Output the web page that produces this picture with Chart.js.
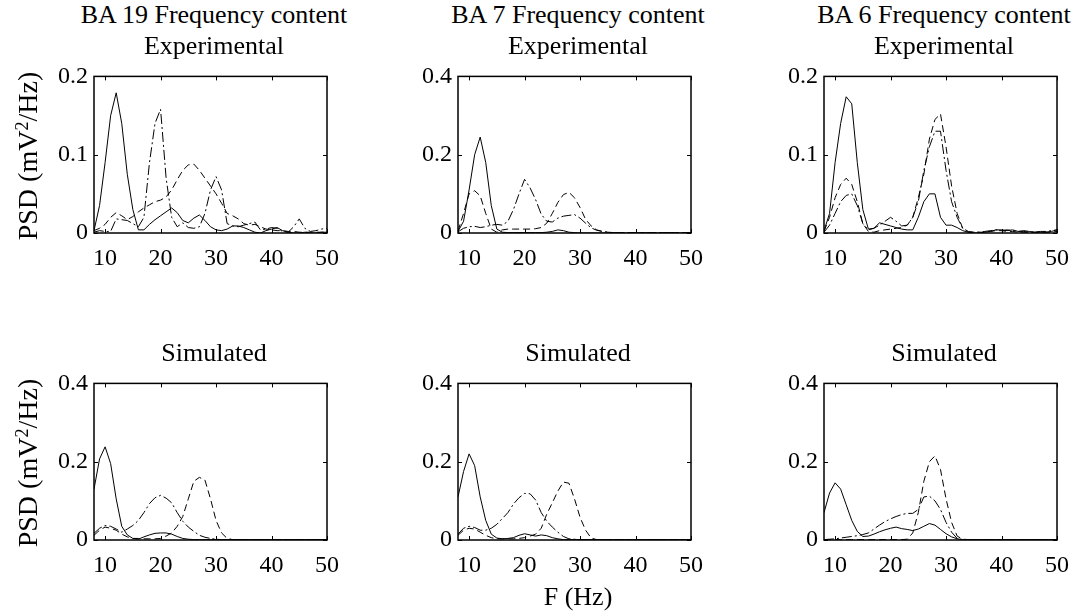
<!DOCTYPE html>
<html>
<head>
<meta charset="utf-8">
<script src="https://cdn.jsdelivr.net/npm/chart.js@4.4.1/dist/chart.umd.min.js"></script>
<style>
  body { margin: 0; background: #fff; }
  #fig { position: relative; width: 1081px; height: 612px; overflow: hidden;
         font-family: "Liberation Serif", "Times New Roman", serif; color: #000; }
  #fig canvas { position: absolute; }
  .txt { position: absolute; white-space: nowrap; text-align: center; }
</style>
</head>
<body>
<div id="fig"></div>
<script>
const freqs = [8, 9, 10, 11, 12, 13, 14, 15, 16, 17,
  18, 19, 20, 21, 22, 23, 24, 25, 26, 27,
  28, 29, 30, 31, 32, 33, 34, 35, 36, 37,
  38, 39, 40, 41, 42, 43, 44, 45, 46, 47,
  48, 49, 50];
const xTicks = [10, 20, 30, 40, 50];
const yTicksSmall = [0, 0.1, 0.2];
const yTicksBig = [0, 0.2, 0.4];

// BA 19, experimental
const ba19ExpSolid = [0.003, 0.035, 0.09, 0.15, 0.179, 0.14, 0.075, 0.03, 0.004, 0.004,
  0.011, 0.017, 0.022, 0.027, 0.032, 0.026, 0.016, 0.013, 0.019, 0.023,
  0.016, 0.008, 0.004, 0.003, 0.005, 0.009, 0.009, 0.007, 0.004, 0.001,
  0, 0.003, 0.005, 0.007, 0.003, 0.001, 0, 0, 0.001, 0,
  0, 0.001, 0.001];
const ba19ExpDashed = [0.003, 0.006, 0.011, 0.02, 0.026, 0.022, 0.017, 0.021, 0.027, 0.032,
  0.036, 0.04, 0.042, 0.046, 0.055, 0.068, 0.08, 0.087, 0.088, 0.08,
  0.07, 0.06, 0.05, 0.038, 0.025, 0.022, 0.018, 0.012, 0.01, 0.011,
  0.008, 0.005, 0.004, 0.003, 0.003, 0.002, 0.002, 0.001, 0.001, 0.001,
  0.001, 0.001, 0.001];
const ba19ExpDashDot = [0.001, 0.003, 0.002, 0.002, 0.018, 0.017, 0.016, 0.012, 0.008, 0.02,
  0.09, 0.14, 0.158, 0.07, 0.02, 0.008, 0.013, 0.007, 0.006, 0.008,
  0.025, 0.055, 0.072, 0.055, 0.012, 0.009, 0.008, 0.01, 0.012, 0.014,
  0.004, 0.005, 0.007, 0.006, 0.002, 0.001, 0.008, 0.018, 0.006, 0.002,
  0.003, 0.005, 0.006];

// BA 7, experimental
const ba7ExpSolid = [0.004, 0.03, 0.11, 0.2, 0.245, 0.18, 0.07, 0.01, 0.002, 0.001,
  0.001, 0.001, 0.001, 0.001, 0.001, 0.001, 0.002, 0.004, 0.008, 0.006,
  0.002, 0.001, 0, 0, 0, 0, 0, 0, 0, 0,
  0, 0, 0, 0, 0, 0, 0, 0, 0, 0,
  0, 0, 0];
const ba7ExpDashed = [0.005, 0.05, 0.1, 0.108, 0.095, 0.05, 0.01, 0.002, 0.008, 0.01,
  0.01, 0.01, 0.01, 0.01, 0.011, 0.014, 0.025, 0.05, 0.078, 0.098,
  0.104, 0.09, 0.065, 0.035, 0.018, 0.008, 0.004, 0.002, 0.001, 0.001,
  0.001, 0.001, 0.001, 0.001, 0.001, 0.001, 0.001, 0.001, 0.001, 0.001,
  0.001, 0.001, 0.001];
const ba7ExpDashDot = [0.003, 0.012, 0.016, 0.017, 0.014, 0.016, 0.02, 0.022, 0.02, 0.03,
  0.06, 0.1, 0.137, 0.115, 0.085, 0.048, 0.03, 0.028, 0.038, 0.043,
  0.045, 0.047, 0.038, 0.025, 0.013, 0.007, 0.004, 0.002, 0.001, 0.001,
  0.001, 0.001, 0.001, 0.001, 0.001, 0.001, 0.001, 0.001, 0.001, 0.001,
  0.001, 0.001, 0.001];

// BA 6, experimental
const ba6ExpSolid = [0.003, 0.025, 0.09, 0.14, 0.174, 0.165, 0.09, 0.03, 0.005, 0.006,
  0.013, 0.011, 0.009, 0.007, 0.005, 0.004, 0.004, 0.02, 0.04, 0.05,
  0.05, 0.02, 0.01, 0.01, 0.007, 0.003, 0.001, 0, 0, 0.001,
  0.002, 0.004, 0.004, 0.003, 0.004, 0.002, 0.003, 0.002, 0.001, 0.001,
  0.001, 0.002, 0.004];
const ba6ExpDashed = [0.002, 0.02, 0.045, 0.062, 0.07, 0.062, 0.04, 0.012, 0.002, 0.001,
  0.003, 0.004, 0.005, 0.006, 0.007, 0.01, 0.02, 0.045, 0.075, 0.12,
  0.145, 0.152, 0.11, 0.06, 0.025, 0.006, 0.001, 0.001, 0.001, 0.001,
  0.002, 0.003, 0.003, 0.002, 0.002, 0.001, 0.001, 0.001, 0.001, 0.001,
  0.001, 0.001, 0.002];
const ba6ExpDashDot = [0.001, 0.01, 0.025, 0.04, 0.048, 0.05, 0.035, 0.012, 0.004, 0.006,
  0.01, 0.015, 0.02, 0.015, 0.009, 0.01, 0.02, 0.04, 0.08, 0.11,
  0.13, 0.13, 0.08, 0.04, 0.02, 0.006, 0.002, 0.001, 0.001, 0.002,
  0.003, 0.004, 0.003, 0.004, 0.003, 0.002, 0.002, 0.001, 0.001, 0.002,
  0.002, 0.003, 0.004];

// BA 19, simulated
const ba19SimSolid = [0.13, 0.207, 0.238, 0.195, 0.105, 0.035, 0.013, 0.004, 0.002, 0.008,
  0.013, 0.017, 0.018, 0.018, 0.015, 0.009, 0.004, 0.002, 0.001, 0.001,
  0.001, 0.001, 0.001, 0.001, 0.001, 0.001, 0.001, 0.001, 0.001, 0.001,
  0.001, 0.001, 0.001, 0.001, 0.001, 0.001, 0.001, 0.001, 0.001, 0.001,
  0.001, 0.001, 0.001];
const ba19SimDashed = [0.012, 0.025, 0.033, 0.03, 0.025, 0.015, 0.008, 0.004, 0.004, 0.003,
  0.003, 0.003, 0.004, 0.01, 0.018, 0.035, 0.06, 0.105, 0.15, 0.16,
  0.153, 0.105, 0.05, 0.018, 0.004, 0.001, 0.001, 0.001, 0.001, 0.001,
  0.001, 0.001, 0.001, 0.001, 0.001, 0.001, 0.001, 0.001, 0.001, 0.001,
  0.001, 0.001, 0.001];
const ba19SimDashDot = [0.017, 0.03, 0.037, 0.035, 0.028, 0.02, 0.028, 0.037, 0.05, 0.07,
  0.093, 0.108, 0.114, 0.107, 0.095, 0.07, 0.048, 0.033, 0.022, 0.012,
  0.007, 0.004, 0.002, 0.001, 0.001, 0.001, 0.001, 0.001, 0.001, 0.001,
  0.001, 0.001, 0.001, 0.001, 0.001, 0.001, 0.001, 0.001, 0.001, 0.001,
  0.001, 0.001, 0.001];

// BA 7, simulated
const ba7SimSolid = [0.11, 0.175, 0.22, 0.19, 0.11, 0.05, 0.015, 0.005, 0.003, 0.004,
  0.006, 0.012, 0.016, 0.013, 0.01, 0.013, 0.011, 0.006, 0.003, 0.001,
  0.001, 0.001, 0.001, 0.001, 0.001, 0.001, 0.001, 0.001, 0.001, 0.001,
  0.001, 0.001, 0.001, 0.001, 0.001, 0.001, 0.001, 0.001, 0.001, 0.001,
  0.001, 0.001, 0.001];
const ba7SimDashed = [0.012, 0.025, 0.03, 0.028, 0.02, 0.012, 0.006, 0.003, 0.003, 0.003,
  0.003, 0.004, 0.006, 0.01, 0.015, 0.03, 0.066, 0.095, 0.125, 0.148,
  0.145, 0.105, 0.058, 0.025, 0.005, 0.001, 0.001, 0.001, 0.001, 0.001,
  0.001, 0.001, 0.001, 0.001, 0.001, 0.001, 0.001, 0.001, 0.001, 0.001,
  0.001, 0.001, 0.001];
const ba7SimDashDot = [0.015, 0.03, 0.035, 0.032, 0.025, 0.025, 0.03, 0.04, 0.055, 0.07,
  0.092, 0.108, 0.119, 0.118, 0.102, 0.07, 0.048, 0.033, 0.02, 0.009,
  0.003, 0.002, 0.001, 0.001, 0.001, 0.001, 0.001, 0.001, 0.001, 0.001,
  0.001, 0.001, 0.001, 0.001, 0.001, 0.001, 0.001, 0.001, 0.001, 0.001,
  0.001, 0.001, 0.001];

// BA 6, simulated
const ba6SimSolid = [0.07, 0.12, 0.146, 0.13, 0.09, 0.05, 0.022, 0.009, 0.01, 0.015,
  0.021, 0.026, 0.03, 0.033, 0.029, 0.027, 0.024, 0.028, 0.035, 0.042,
  0.038, 0.027, 0.016, 0.008, 0.003, 0.001, 0.001, 0.001, 0.001, 0.001,
  0.001, 0.001, 0.001, 0.001, 0.001, 0.001, 0.001, 0.001, 0.001, 0.001,
  0.001, 0.001, 0.001];
const ba6SimDashed = [0.001, 0.001, 0.001, 0.001, 0.001, 0.001, 0.001, 0.001, 0.001, 0.001,
  0.001, 0.001, 0.001, 0.001, 0.001, 0.002, 0.018, 0.07, 0.15, 0.2,
  0.215, 0.18, 0.105, 0.045, 0.01, 0.002, 0.001, 0.001, 0.001, 0.001,
  0.001, 0.001, 0.001, 0.001, 0.001, 0.001, 0.001, 0.001, 0.001, 0.001,
  0.001, 0.001, 0.001];
const ba6SimDashDot = [0.001, 0.002, 0.003, 0.005, 0.007, 0.009, 0.011, 0.014, 0.018, 0.028,
  0.038, 0.047, 0.054, 0.06, 0.065, 0.068, 0.068, 0.078, 0.11, 0.112,
  0.1, 0.078, 0.045, 0.02, 0.004, 0.001, 0.001, 0.001, 0.001, 0.001,
  0.001, 0.001, 0.001, 0.001, 0.001, 0.001, 0.001, 0.001, 0.001, 0.001,
  0.001, 0.001, 0.001];

const topTitle = ["BA 19 Frequency content", "BA 7 Frequency content", "BA 6 Frequency content"];
const rowTitle = ["Experimental", "Simulated"];
const yLabel = "PSD (mV<span class=\"sup\">2</span>/Hz)";
const xLabel = "F (Hz)";

const panels = [
  { col: 0, row: 0, yMax: 0.2, yTicks: yTicksSmall, lines: [ba19ExpSolid, ba19ExpDashed, ba19ExpDashDot] },
  { col: 1, row: 0, yMax: 0.4, yTicks: yTicksBig, lines: [ba7ExpSolid, ba7ExpDashed, ba7ExpDashDot] },
  { col: 2, row: 0, yMax: 0.2, yTicks: yTicksSmall, lines: [ba6ExpSolid, ba6ExpDashed, ba6ExpDashDot] },
  { col: 0, row: 1, yMax: 0.4, yTicks: yTicksBig, lines: [ba19SimSolid, ba19SimDashed, ba19SimDashDot] },
  { col: 1, row: 1, yMax: 0.4, yTicks: yTicksBig, lines: [ba7SimSolid, ba7SimDashed, ba7SimDashDot] },
  { col: 2, row: 1, yMax: 0.4, yTicks: yTicksBig, lines: [ba6SimSolid, ba6SimDashed, ba6SimDashDot] },
];

// layout of plot boxes (px)
const colLeft = [94, 458, 824];
const rowTop = [72, 379];
const boxW = 240, boxH = 161;
const padL = 60, padT = 16, padR = 16, padB = 46;
const dashes = [[], [7, 4], [10, 3, 2, 3]];

// box round the plot area and inward tick marks like matlab
const boxPlugin = {
  id: "box",
  afterDraw(chart) {
    const { ctx, chartArea: a, scales } = chart;
    ctx.save();
    ctx.strokeStyle = "#000";
    ctx.lineWidth = 1.5;
    ctx.strokeRect(a.left, a.top, a.right - a.left, a.bottom - a.top);
    ctx.lineWidth = 1;
    ctx.beginPath();
    scales.x.ticks.forEach((t) => {
      const px = Math.round(scales.x.getPixelForValue(t.value)) + 0.5;
      ctx.moveTo(px, a.top); ctx.lineTo(px, a.top + 4);
      ctx.moveTo(px, a.bottom); ctx.lineTo(px, a.bottom - 4);
    });
    scales.y.ticks.forEach((t) => {
      const py = Math.round(scales.y.getPixelForValue(t.value)) + 0.5;
      ctx.moveTo(a.left, py); ctx.lineTo(a.left + 4, py);
      ctx.moveTo(a.right, py); ctx.lineTo(a.right - 4, py);
    });
    ctx.stroke();
    ctx.restore();
  },
};

function addText(html, css) {
  const d = document.createElement("div");
  d.className = "txt";
  d.innerHTML = html;
  Object.assign(d.style, css);
  document.getElementById("fig").appendChild(d);
  return d;
}

function createPanel(p, i) {
  const canvas = document.createElement("canvas");
  canvas.id = "panel" + i;
  canvas.width = padL + boxW + padR;
  canvas.height = padT + boxH + padB;
  canvas.style.left = colLeft[p.col] - padL + "px";
  canvas.style.top = rowTop[p.row] - padT + "px";
  document.getElementById("fig").appendChild(canvas);

  const tickFont = { family: "'Liberation Serif', 'Times New Roman', serif", size: 24 };

  new Chart(canvas.getContext("2d"), {
    type: "line",
    data: {
      labels: freqs,
      datasets: p.lines.map((vals, k) => ({
        data: freqs.map((f, j) => ({ x: f, y: vals[j] })),
        borderColor: "#000",
        borderWidth: 1,
        borderDash: dashes[k],
        pointRadius: 0,
        tension: 0,
        fill: false,
      })),
    },
    options: {
      responsive: false,
      animation: false,
      devicePixelRatio: 1,
      layout: { padding: { top: padT, right: padR, left: 0, bottom: 0 } },
      plugins: { legend: { display: false }, tooltip: { enabled: false } },
      scales: {
        x: {
          type: "linear",
          min: 8,
          max: 50,
          afterFit: (s) => { s.height = padB; },
          afterBuildTicks: (s) => { s.ticks = xTicks.map((v) => ({ value: v })); },
          grid: { display: false, drawTicks: false },
          border: { display: false },
          ticks: { font: tickFont, color: "#000", padding: 11, maxRotation: 0, autoSkip: false },
        },
        y: {
          min: 0,
          max: p.yMax,
          afterFit: (s) => { s.width = padL; },
          afterBuildTicks: (s) => { s.ticks = p.yTicks.map((v) => ({ value: v })); },
          grid: { display: false, drawTicks: false },
          border: { display: false },
          ticks: { font: tickFont, color: "#000", padding: 6, callback: (v) => String(v) },
        },
      },
    },
    plugins: [boxPlugin],
  });
}

document.addEventListener("DOMContentLoaded", () => {
  panels.forEach(createPanel);

  // titles
  for (let c = 0; c < 3; c++) {
    const cx = colLeft[c] + boxW / 2;
    addText(topTitle[c], { left: cx - 150 + "px", width: "300px", top: "1px", fontSize: "26px", lineHeight: "28px" });
    addText(rowTitle[0], { left: cx - 150 + "px", width: "300px", top: "32px", fontSize: "26px", lineHeight: "28px" });
    addText(rowTitle[1], { left: cx - 150 + "px", width: "300px", top: "339px", fontSize: "26px", lineHeight: "28px" });
  }

  // axis labels
  rowTop.forEach((t) => {
    addText(yLabel, {
      left: "28px", top: t + boxH / 2 + 3 + "px", fontSize: "28px", lineHeight: "30px",
      transform: "translate(-50%, -50%) rotate(-90deg)",
    });
  });
  addText(xLabel, { left: colLeft[1] + boxW / 2 - 100 + "px", width: "200px", top: "583px", fontSize: "26px", lineHeight: "28px" });

  document.querySelectorAll(".sup").forEach((s) => {
    Object.assign(s.style, { fontSize: "0.65em", verticalAlign: "0.5em", lineHeight: "0" });
  });
});
</script>
</body>
</html>
